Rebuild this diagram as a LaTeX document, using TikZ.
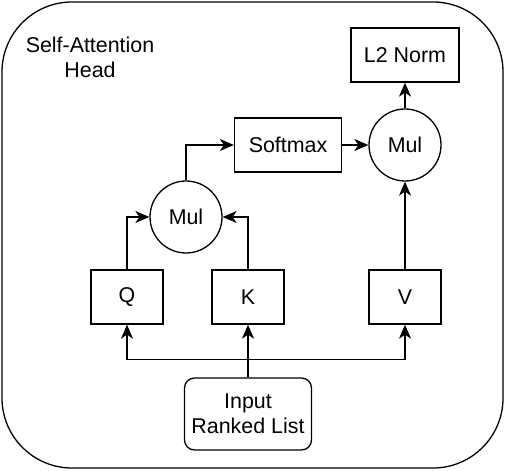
\documentclass[tikz,border=0pt]{standalone}
\usepackage{fontspec}
\setmainfont{Liberation Sans}
\usetikzlibrary{positioning}
\usetikzlibrary{calc}
\usetikzlibrary{arrows.meta}

\begin{document}
\begin{tikzpicture}[font=\fontsize{10.7}{12.5}\selectfont, line width=0.65pt,
		box/.style={draw, minimum width=36pt, minimum height=27pt, inner sep=2pt},
		mulnode/.style={draw, circle, minimum size=36pt, inner sep=0pt},
		arr/.style={-{Stealth[length=7pt, width=6pt, inset=2pt]}}]
			\node[draw, rounded corners=5pt, minimum width=63.5pt, minimum height=36pt, align=center] (input) at (0,0) {Input\\Ranked List};
			\node[box, above of=input, node distance=58.5pt] (k) {K};
			\node[box, left of=k, node distance=60.5pt] (q) {Q};
			\node[box, right of=k, node distance=78.5pt] (v) {V};
			\node[mulnode, on grid, above right=40pt and 29.5pt of q] (mul1) {Mul};
			\node[box, minimum width=53.5pt, on grid, above right=36pt and 51pt of mul1] (softmax) {Softmax};
			\node[mulnode, above of=v, node distance=76pt] (mul2) {Mul};
			\node[box, minimum width=54pt, above of=mul2, node distance=45pt] (l2norm) {L2 Norm};
			\node[align=center, inner sep=0pt] (title) at ($(input)+(-79pt,178.5pt)$) {Self-Attention\\Head};
			\coordinate (split) at ($(input.north)+(0,9pt)$);
			\path[draw, arr] (input) -- (k);
			\path[draw, arr] (split) -| (q);
			\path[draw, arr] (split) -| (v);
			\path[draw, arr] (q) |- (mul1);
			\path[draw, arr] (k) |- (mul1);
			\path[draw, arr] (mul1) |- (softmax);
			\path[draw, arr] (softmax) -- (mul2);
			\path[draw, arr] (v) -- (mul2);
			\path[draw, arr] (mul2) -- (l2norm);
			% outer frame of the head
			\draw[rounded corners=35pt] ($(input)+(-123pt,-27pt)$) rectangle ($(input)+(127.5pt,206pt)$);
			\useasboundingbox ($(input)+(-124pt,-28pt)$) rectangle ($(input)+(129pt,207pt)$);
		\end{tikzpicture}
\end{document}
